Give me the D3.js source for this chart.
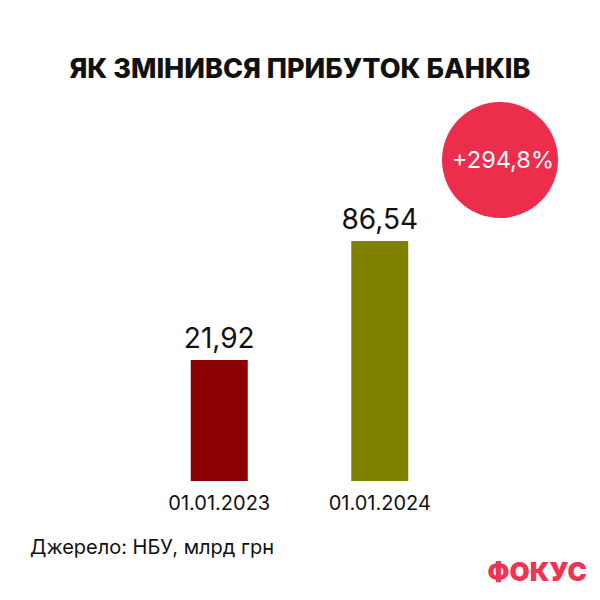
<!DOCTYPE html>
<html><head><meta charset="utf-8">
<script src="https://cdn.jsdelivr.net/npm/d3@7"></script>
<style>body{margin:0;background:#fff}</style>
</head><body>
<script>
const categories = ["01.01.2023", "01.01.2024"];
const values = [21.92, 86.54];
const valueLabels = ["21,92", "86,54"];
const colors = ["#8b0000", "#808000"];
const title = "ЯК ЗМІНИВСЯ ПРИБУТОК БАНКІВ";
const badge = "+294,8%";
const source = "Джерело: НБУ, млрд грн";
const logo = "ФОКУС";

const svg = d3.select("body").append("svg").attr("width",600).attr("height",600);
svg.append("rect").attr("width",600).attr("height",600).attr("fill","#fff");
const font = "Inter, 'Noto Sans', sans-serif";

svg.append("text").attr("x",300).attr("y",78).attr("text-anchor","middle")
  .attr("font-family",font).attr("font-weight",800).attr("font-size",27).attr("fill","#111").text(title);

const x = d3.scaleBand().domain(categories).range([139,460]).paddingInner(0.645).paddingOuter(0.3225);
const y = d3.scaleLinear().domain([-43.8, 86.54]).range([481, 241]);

svg.selectAll("rect.bar").data(values).join("rect").attr("class","bar")
  .attr("x",(d,i)=>x(categories[i])).attr("width",x.bandwidth())
  .attr("y",d=>y(d)).attr("height",d=>y.range()[0]-y(d)).attr("fill",(d,i)=>colors[i]);

svg.selectAll("text.val").data(values).join("text").attr("class","val")
  .attr("x",(d,i)=>x(categories[i])+x.bandwidth()/2).attr("y",d=>y(d)-12)
  .attr("text-anchor","middle").attr("font-family",font).attr("font-size",28).attr("fill","#111")
  .text((d,i)=>valueLabels[i]);

svg.selectAll("text.cat").data(categories).join("text").attr("class","cat")
  .attr("x",d=>x(d)+x.bandwidth()/2).attr("y",510).attr("text-anchor","middle")
  .attr("font-family",font).attr("font-size",20).attr("fill","#111").text(d=>d);

svg.append("circle").attr("cx",500).attr("cy",160).attr("r",58).attr("fill","#ec2d4c");
svg.append("text").attr("x",503).attr("y",168).attr("text-anchor","middle")
  .attr("font-family",font).attr("font-size",23.5).attr("fill","#fff").text(badge);

svg.append("text").attr("x",30).attr("y",554).attr("font-family",font).attr("font-size",20)
  .attr("fill","#111").text(source);

svg.append("text").attr("x",587).attr("y",581).attr("text-anchor","end")
  .attr("font-family",font).attr("font-weight",900).attr("font-size",26).attr("fill","#ef3350").text(logo);
</script>
</body></html>
